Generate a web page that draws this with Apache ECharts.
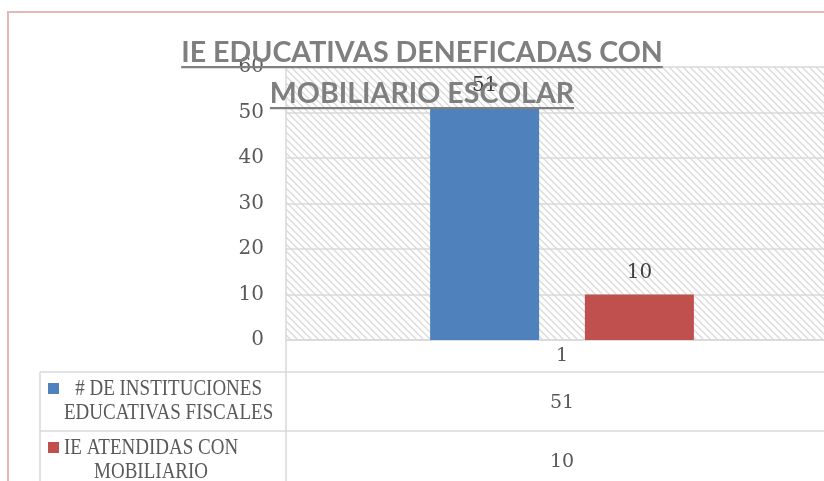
<!DOCTYPE html>
<html><head><meta charset="utf-8">
<script src="https://cdn.jsdelivr.net/npm/echarts@6/dist/echarts.min.js"></script>
<style>html,body{margin:0;padding:0;overflow:hidden;background:#fff;width:824px;height:481px}
#c{width:838px;height:481px}</style></head>
<body><div id="c"></div>
<script>
const titleLines = ['IE EDUCATIVAS DENEFICADAS CON', 'MOBILIARIO ESCOLAR'];
const categories = ['1'];
const seriesNames = ['# DE INSTITUCIONES\nEDUCATIVAS FISCALES', 'IE ATENDIDAS CON\nMOBILIARIO'];
const seriesA = [51];
const seriesB = [10];
const seriesColors = ['#4f81bd', '#c0504d'];
const yMin = 0, yMax = 60, yInterval = 10;

const serif = 'Liberation Serif';
const numFont = 'DejaVu Serif';
const titleFont = 'Lato';
const gridCol = '#d9d9d9';

function hatch() {
  const p = 7;
  const c = document.createElement('canvas'); c.width = p; c.height = p;
  const g = c.getContext('2d');
  g.fillStyle = '#ffffff'; g.fillRect(0, 0, p, p);
  g.strokeStyle = '#d9d9d9'; g.lineWidth = 1.3;
  g.beginPath();
  for (let k = -2; k <= 2; k++) { g.moveTo(k * p - p, -p); g.lineTo(k * p + 2 * p, 2 * p); }
  g.stroke();
  return c;
}
function measure(text, font) {
  const c = document.createElement('canvas').getContext('2d');
  c.font = font; return c.measureText(text).width;
}

const chart = echarts.init(document.getElementById('c'), null, {renderer: 'canvas'});
const allSeries = [seriesA, seriesB];
chart.setOption({
  animation: false,
  grid: {left: 286, right: 0, top: 67, bottom: 141, show: true, borderWidth: 0,
         backgroundColor: {image: hatch(), repeat: 'repeat'}},
  xAxis: {type: 'category', data: categories,
          axisLine: {show: true, lineStyle: {color: gridCol, width: 1.5}},
          axisTick: {show: false},
          axisLabel: {margin: 7, color: '#595959', fontFamily: numFont, fontSize: 19}},
  yAxis: {type: 'value', min: yMin, max: yMax, interval: yInterval,
          axisLine: {show: true, lineStyle: {color: gridCol, width: 1.5}},
          axisTick: {show: false},
          splitLine: {lineStyle: {color: gridCol, width: 1.5}},
          axisLabel: {margin: 22, color: '#595959', fontFamily: numFont, fontSize: 20}},
  series: allSeries.map((d, i) => ({
    name: seriesNames[i], type: 'bar', data: d, barWidth: 109, barGap: '42%',
    itemStyle: {color: seriesColors[i]},
    label: {show: true, position: 'top', distance: 12, color: '#404040', fontFamily: numFont, fontSize: 20}
  }))
});

const cx = chart.convertToPixel({xAxisIndex: 0}, categories[0]);
const y0 = chart.convertToPixel({yAxisIndex: 0}, yMin);
const W = 838, H = 481;
const g = [];
g.push({type: 'rect', shape: {x: 8, y: 12, width: W + 20, height: H + 20}, style: {fill: null, stroke: '#e6b8b7', lineWidth: 2}, z: 1});
const rowTop = [372, 431];
const rowH = 59;
g.push({type: 'line', shape: {x1: 286, y1: y0, x2: 286, y2: H}, style: {stroke: gridCol, lineWidth: 1.5}, z: 5});
g.push({type: 'line', shape: {x1: 40, y1: rowTop[0], x2: 40, y2: H}, style: {stroke: gridCol, lineWidth: 1.5}, z: 5});
rowTop.forEach(t => g.push({type: 'line', shape: {x1: 40, y1: t, x2: W, y2: t}, style: {stroke: gridCol, lineWidth: 1.5}, z: 5}));
const tFont = '19px "' + serif + '"';
allSeries.forEach((d, i) => {
  const top = rowTop[i];
  const lines = seriesNames[i].split('\n');
  const maxW = Math.max(...lines.map(l => measure(l, tFont)));
  g.push({type: 'rect', shape: {x: 48, y: top + 11, width: 11, height: 11}, style: {fill: seriesColors[i]}, z: 6});
  lines.forEach((l, j) => g.push({type: 'text', x: 64 + maxW / 2, y: top + 17 + j * 24, scaleY: 1.22,
    style: {text: l, fill: '#595959', font: tFont, align: 'center', verticalAlign: 'middle'}, z: 6}));
  g.push({type: 'text', x: cx, y: top + 31, style: {text: String(d[0]), fill: '#595959', font: '19px "' + numFont + '"', align: 'center', verticalAlign: 'middle'}, z: 6});
});
const tf = 'bold 28.6px "' + titleFont + '"';
const tcx = 422;
titleLines.forEach((l, j) => {
  const w = measure(l, tf);
  const yc = 53 + j * 41;
  g.push({type: 'text', x: tcx, y: yc, style: {text: l, fill: '#7f7f7f', font: tf, align: 'center', verticalAlign: 'middle'}, z: 20});
  g.push({type: 'rect', shape: {x: tcx - w / 2, y: yc + 13, width: w, height: 2.2}, style: {fill: '#7f7f7f'}, z: 20});
});
chart.setOption({graphic: g});
</script></body></html>
